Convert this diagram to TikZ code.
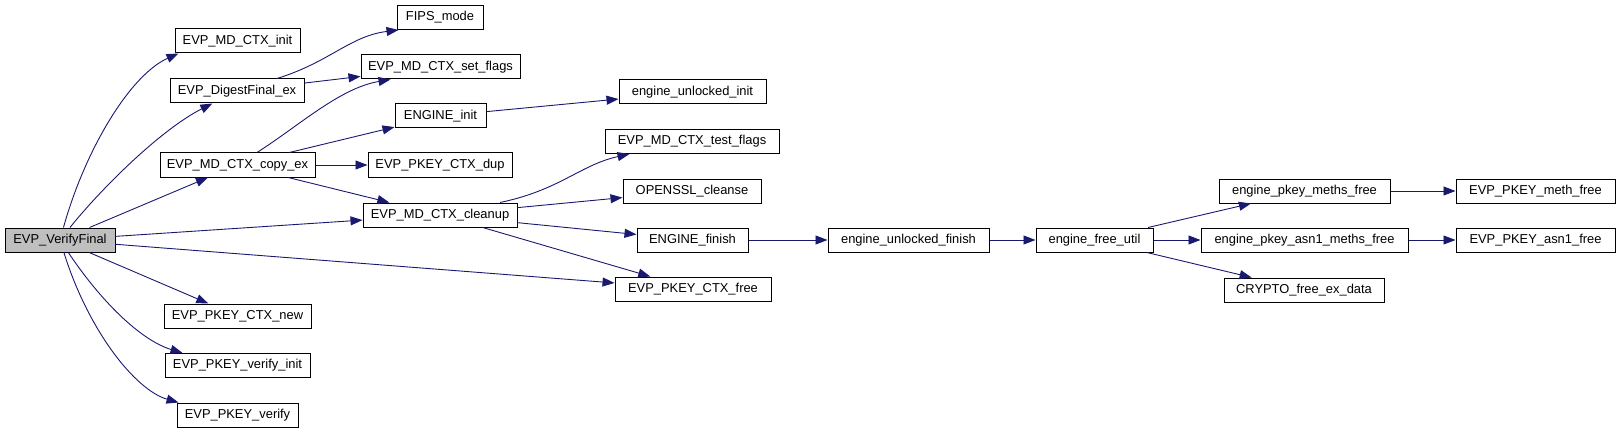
\documentclass[tikz,border=0pt]{standalone}
\usepackage{fontspec}
\setmainfont{Liberation Sans}
\usetikzlibrary{arrows.meta}
\definecolor{edgeblue}{RGB}{25,25,112}
\definecolor{rootgrey}{RGB}{191,191,191}

\begin{document}
\begin{tikzpicture}[x=1pt, y=-1pt, line width=1pt,
  fn/.style={draw, rectangle, minimum height=24pt, minimum width=#1, inner xsep=4pt, inner ysep=0pt,
    font=\fontsize{12.9}{14}\selectfont},
  call/.style={draw=edgeblue, line width=0.9pt, -{Triangle[length=12pt,width=9pt]}}]
  \useasboundingbox (0,0) rectangle (1620,433);
  % root: EVP_VerifyFinal
  \node[fn=110pt, fill=rootgrey] (vf) at (60,240) {EVP\_VerifyFinal};
  % first column
  \node[fn=125pt] (init) at (237.5,41) {EVP\_MD\_CTX\_init};
  \node[fn=134pt] (digest) at (237,91) {EVP\_DigestFinal\_ex};
  \node[fn=155pt] (copy) at (237.5,165) {EVP\_MD\_CTX\_copy\_ex};
  \node[fn=147pt] (ctxnew) at (237.5,316) {EVP\_PKEY\_CTX\_new};
  \node[fn=145pt] (vinit) at (237.5,365.5) {EVP\_PKEY\_verify\_init};
  \node[fn=121pt] (verify) at (237.5,415) {EVP\_PKEY\_verify};
  % second column
  \node[fn=86pt] (fips) at (440,17.5) {FIPS\_mode};
  \node[fn=159pt] (setflags) at (440.5,67) {EVP\_MD\_CTX\_set\_flags};
  \node[fn=91pt] (enginit) at (440.5,116) {ENGINE\_init};
  \node[fn=144pt] (dup) at (440,165) {EVP\_PKEY\_CTX\_dup};
  \node[fn=154pt] (cleanup) at (440,215) {EVP\_MD\_CTX\_cleanup};
  % third column
  \node[fn=147pt] (unlinit) at (692.5,92) {engine\_unlocked\_init};
  \node[fn=174pt] (testflags) at (692,141.5) {EVP\_MD\_CTX\_test\_flags};
  \node[fn=138pt] (cleanse) at (692,191) {OPENSSL\_cleanse};
  \node[fn=111pt] (engfinish) at (692.5,240) {ENGINE\_finish};
  \node[fn=156pt] (ctxfree) at (693,289) {EVP\_PKEY\_CTX\_free};
  % engine chain
  \node[fn=161pt] (unlfinish) at (908.5,240) {engine\_unlocked\_finish};
  \node[fn=117pt] (freeutil) at (1094.5,240) {engine\_free\_util};
  \node[fn=171pt] (methsfree) at (1304.5,191) {engine\_pkey\_meths\_free};
  \node[fn=207pt] (asn1meths) at (1304.5,240) {engine\_pkey\_asn1\_meths\_free};
  \node[fn=160pt] (exdata) at (1304,290) {CRYPTO\_free\_ex\_data};
  \node[fn=159pt] (methfree) at (1535.5,191) {EVP\_PKEY\_meth\_free};
  \node[fn=159pt] (asn1free) at (1535.5,240) {EVP\_PKEY\_asn1\_free};
  % calls from the root
  \draw[call] (vf) .. controls (85,150) and (130,75) .. ([xshift=4pt]init.south west);
  \draw[call] (vf) .. controls (100,190) and (160,130) .. (digest);
  \draw[call] (vf) -- (copy);
  \draw[call] (vf) -- (cleanup);
  \draw[call] (vf) -- (ctxfree);
  \draw[call] (vf) -- (ctxnew);
  \draw[call] (vf) .. controls (100,300) and (140,340) .. ([xshift=18pt]vinit.north west);
  \draw[call] (vf) .. controls (88,330) and (135,390) .. ([xshift=2pt]verify.north west);
  % calls from the first column
  \draw[call] (digest) .. controls (330,62) and (350,36) .. ([xshift=2pt]fips.south west);
  \draw[call] (digest) -- (setflags);
  \draw[call] (copy) .. controls (300,125) and (340,88) .. ([xshift=30pt]setflags.south west);
  \draw[call] (copy) -- (enginit);
  \draw[call] (copy) -- (dup);
  \draw[call] (copy) -- (cleanup);
  % calls from the second column
  \draw[call] (enginit) -- (unlinit);
  \draw[call] (cleanup) .. controls (560,190) and (580,165) .. ([xshift=25pt]testflags.south west);
  \draw[call] (cleanup) -- (cleanse);
  \draw[call] (cleanup) -- (engfinish);
  \draw[call] (cleanup) -- (ctxfree);
  % engine chain
  \draw[call] (engfinish) -- (unlfinish);
  \draw[call] (unlfinish) -- (freeutil);
  \draw[call] (freeutil) -- (methsfree);
  \draw[call] (freeutil) -- (asn1meths);
  \draw[call] (freeutil) -- (exdata);
  \draw[call] (methsfree) -- (methfree);
  \draw[call] (asn1meths) -- (asn1free);
\end{tikzpicture}
\end{document}
